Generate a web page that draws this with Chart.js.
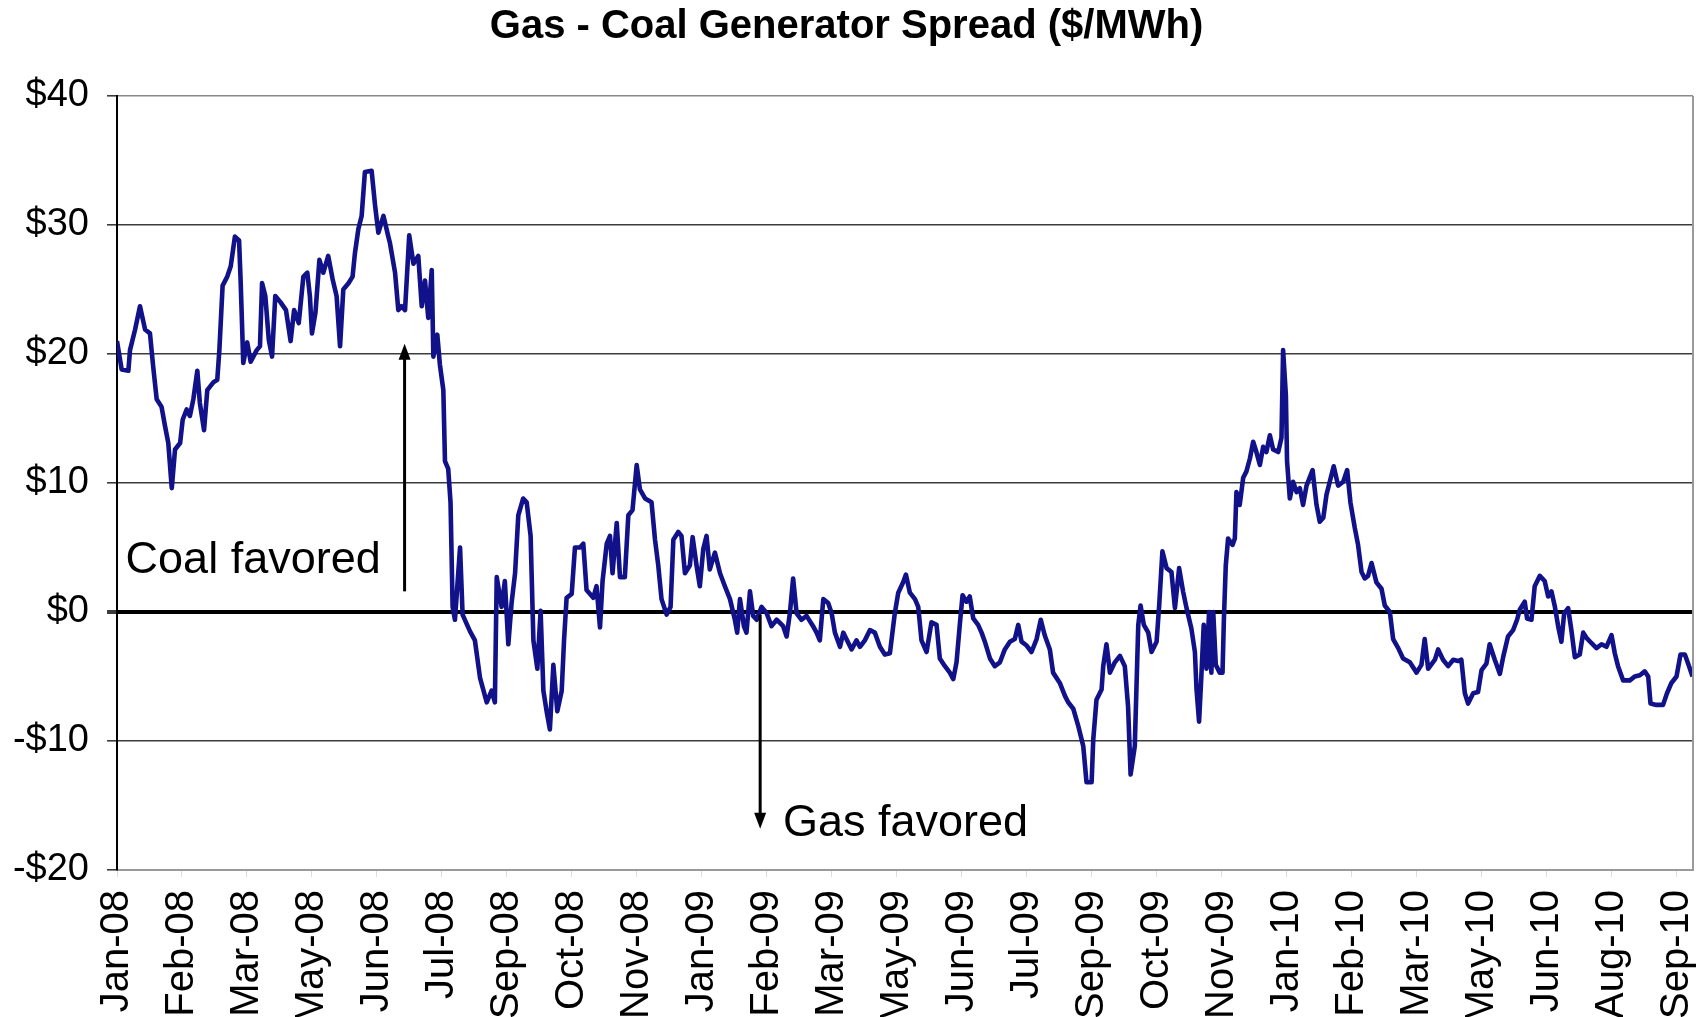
<!DOCTYPE html>
<html>
<head>
<meta charset="utf-8">
<title>Gas - Coal Generator Spread</title>
<script src="https://cdn.jsdelivr.net/npm/chart.js@4.4.1/dist/chart.umd.min.js"></script>
<style>
  html, body { margin: 0; padding: 0; background: #fff; }
  #wrap { width: 1696px; height: 1017px; position: relative; }
</style>
</head>
<body>
<div id="wrap"><canvas id="spread-chart"></canvas></div>
<script>
// x = trading day counted from the start of Jan-08, one axis label every 28 days
const xTickLabels = ["Jan-08", "Feb-08", "Mar-08", "May-08", "Jun-08", "Jul-08", "Sep-08", "Oct-08",
  "Nov-08", "Jan-09", "Feb-09", "Mar-09", "May-09", "Jun-09", "Jul-09", "Sep-09", "Oct-09",
  "Nov-09", "Jan-10", "Feb-10", "Mar-10", "May-10", "Jun-10", "Aug-10", "Sep-10"];
const daysPerLabel = 28;
const lastDay = 679;

const days = [
  0, 2.0, 4.9, 5.6, 7.8, 9.9, 12.1, 14.2, 15.6, 17.1, 19.2, 20.7, 22.1, 23.6, 25.0, 27.2, 28.3, 30.0, 31.4, 32.9,
  34.6, 35.7, 37.5, 38.9, 41.5, 43.2, 44.1, 45.5, 47.5, 49.0, 50.8, 52.6, 53.3, 54.4, 56.1, 57.6, 60.2, 61.6, 62.5,
  63.9, 65.4, 66.8, 68.2, 70.5, 72.8, 74.8, 76.3, 78.3, 80.3, 82.0, 83.1, 84.0, 85.5, 87.2, 88.9, 91.0, 92.9, 94.6,
  96.1, 97.5, 99.8, 101.5, 102.5, 104.0, 105.4, 106.8, 109.7, 111.2, 112.6, 114.8, 116.9,
  117.6, 119.8, 121.2, 122.6, 124.1, 125.9, 127.7, 129.8, 131.3, 132.7, 134.1, 135.6, 136.3, 138.0, 139.1, 140.6,
  141.3, 142.7, 143.7, 144.6, 145.6, 147.8, 148.9, 150.6, 152.1, 154.2, 156.4, 159.3, 161.4, 162.8, 163.6, 165.7,
  167.1, 168.6, 170.0, 171.5, 172.9, 175.0, 176.5, 178.2, 179.4, 181.1, 182.5, 183.7, 185.1, 186.5, 188.0, 189.7,
  191.6, 192.6, 193.7, 195.9, 197.3, 199.5, 200.9, 202.3, 205.2, 206.6, 208.1, 209.2, 211.0, 212.4, 213.5, 215.3,
  216.7, 218.8, 220.3, 222.1, 223.9, 225.3, 227.5, 230.3,
  231.8, 233.2, 234.6, 236.8, 238.5, 239.7, 241.8, 243.2, 244.7, 246.8, 248.0, 249.7, 251.1, 252.6, 254.0, 255.4,
  257.6, 259.8, 261.9, 264.1, 266.2, 267.2, 268.4, 270.1, 271.2, 272.7, 274.1, 275.6, 277.7, 279.9, 282.0, 284.2,
  287.0, 288.5, 289.9, 291.3, 292.8, 294.9, 297.1, 299.9, 301.4, 302.8, 304.3, 306.4, 307.9, 309.3, 311.5, 312.9,
  315.1, 316.5, 318.6, 320.1, 322.2, 324.4, 326.5, 328.7, 330.8, 333.0, 335.1, 336.6, 338.7, 339.9, 341.6, 343.8,
  345.2, 346.6,
  348.8, 350.9, 353.1, 354.5, 356.7, 358.8, 360.3, 361.7, 363.1, 364.3, 366.0, 367.4, 368.9, 371.0, 372.5, 373.9,
  376.1, 378.2, 380.4, 382.5, 384.7, 386.8, 388.3, 389.7, 391.9, 394.0, 396.2, 398.0, 399.7, 401.9, 403.3, 406.2,
  408.4, 409.8, 412.0, 414.1, 416.3, 417.7, 419.9, 420.6, 422.0, 424.2, 424.9, 426.3, 427.8, 429.9, 432.1, 434.2,
  435.6, 436.7, 438.5, 440.0, 441.0, 442.4, 444.3, 445.7, 447.9, 449.0, 450.4, 452.2, 454.3, 455.8, 457.6,
  459.3, 460.8, 462.9, 464.4, 465.1, 466.2, 467.2, 468.2, 469.4, 470.5, 471.5, 472.3, 473.4, 475.1, 476.3, 476.9,
  477.7, 478.7, 480.6, 481.6, 482.3, 483.7, 485.2, 486.6, 488.1, 489.5, 490.9, 492.4, 493.8, 495.2, 496.7, 498.1,
  500.3, 501.7, 502.4, 503.6, 504.1, 505.3, 506.7, 508.2, 509.6, 511.0, 512.5, 515.1, 516.8, 518.2, 519.7, 521.1,
  522.5, 524.2, 526.1, 528.3, 530.0, 531.4, 533.3, 534.7, 536.2, 537.6, 539.0, 540.5, 542.6, 544.8, 546.2, 548.4,
  549.8, 552.0, 554.1, 557.0, 559.9, 562.0, 563.4, 564.9,
  567.8, 569.2, 571.3, 573.5, 575.7, 577.8, 579.2, 580.7, 582.1, 584.3, 586.4, 587.9, 590.0, 591.4, 593.6, 595.8,
  597.2, 599.3, 601.5, 603.2, 604.4, 606.5, 607.5, 609.4, 610.8, 613.0, 615.1, 616.6, 618.0, 619.5, 620.9, 622.3,
  623.5, 625.2, 626.6, 628.1, 630.2, 631.7, 633.1, 635.2, 637.4, 639.6, 641.7, 643.9, 645.3, 646.7, 648.9, 651.8,
  653.9, 656.1, 658.2, 659.7, 660.7, 663.2, 666.1, 667.8, 669.7, 671.9, 673.6, 675.5, 677.3, 678.8
];

// $/MWh
const spread = [
  21.0, 18.8, 18.7, 20.3, 21.9, 23.7, 21.9, 21.6, 19.0, 16.5, 15.9, 14.4, 13.1, 9.6, 12.6, 13.1, 14.9, 15.7, 15.2, 16.5,
  18.7, 16.2, 14.1, 17.2, 17.8, 18.0, 20.3, 25.3, 26.0, 26.8, 29.1, 28.8, 25.5, 19.3, 20.9, 19.4, 20.3, 20.6, 25.5,
  24.5, 21.1, 19.8, 24.5, 24.0, 23.4, 21.0, 23.4, 22.4, 26.0, 26.3, 24.5, 21.6, 23.2, 27.3, 26.3, 27.6, 25.8, 24.5,
  20.6, 25.0, 25.5, 26.0, 27.8, 29.7, 30.7, 34.1, 34.2, 31.5, 29.4, 30.7, 29.1,
  28.6, 26.3, 23.4, 23.7, 23.4, 29.2, 27.0, 27.6, 23.7, 25.7, 22.8, 26.5, 19.8, 21.5, 19.2, 17.2,
  11.7, 11.1, 8.5, 0.4, -0.6, 5.0, -0.2, -0.9, -1.5, -2.2, -5.1, -7.0, -6.1, -7.0, 2.7, 0.4,
  2.4, -2.5, 0.7, 3.0, 7.5, 8.8, 8.5, 5.9, -2.2, -4.4, 0.1, -6.1, -7.7, -9.1, -4.1, -7.7,
  -6.1, -2.2, 1.1, 1.4, 5.0, 5.0, 5.3, 1.7, 1.1, 2.0, -1.2, 2.4, 5.3, 5.9, 3.0, 6.9,
  2.7, 2.7, 7.5, 7.9, 11.4, 9.5, 8.8, 8.5,
  5.6, 3.6, 1.0, -0.2, 0.4, 5.6, 6.2, 5.9, 3.0, 3.6, 5.8, 3.6, 2.0, 4.9, 5.9, 3.3,
  4.6, 3.0, 2.0, 1.0, -0.6, -1.6, 1.0, -1.1, -1.6, 1.6, -0.3, -0.6, 0.4, -0.1, -1.1, -0.6,
  -1.1, -1.9, -0.1, 2.6, -0.1, -0.6, -0.3, -1.1, -1.6, -2.2, 1.0, 0.7, -0.1, -1.6, -2.7, -1.6,
  -2.4, -2.9, -2.2, -2.7, -2.2, -1.4, -1.6, -2.7, -3.3, -3.2, -0.1, 1.5, 2.3, 2.9, 1.5, 1.0,
  0.4, -2.2,
  -3.1, -0.8, -1.0, -3.6, -4.2, -4.7, -5.2, -3.9, -1.0, 1.3, 0.8, 1.2, -0.5, -1.0, -1.6, -2.3,
  -3.6, -4.2, -3.9, -2.9, -2.3, -2.1, -1.0, -2.3, -2.6, -3.1, -2.1, -0.6, -1.8, -2.9, -4.7, -5.5,
  -6.5, -7.0, -7.5, -8.8, -10.4, -13.2, -13.2, -9.9, -6.8, -6.0, -4.2, -2.5, -4.7, -3.9, -3.4, -4.2,
  -7.3, -12.6, -10.4, -1.0, 0.5, -1.0, -1.6, -3.1, -2.3, 0.5, 4.7, 3.4, 3.1, 0.3, 3.4,
  1.6, 0.3, -1.3, -3.1, -6.0, -8.5, -4.9, -1.0, -4.4, 0, -4.7, 0, -4.1, -4.7, -4.7, -0.5,
  3.6, 5.7, 5.2, 5.7, 9.3, 8.3, 10.4, 10.9, 11.9, 13.2, 12.4, 11.4, 12.8, 12.4, 13.7, 12.6,
  12.4, 13.5, 20.3, 16.8, 11.7, 8.8, 10.1, 9.3, 9.6, 8.3, 9.8, 11.0, 8.3, 7.0, 7.3, 9.1,
  10.1, 11.3, 9.8, 10.1, 11.0, 8.5, 6.5, 5.2, 3.1, 2.6, 2.8, 3.8, 2.3, 1.8, 0.5, 0,
  -2.1, -2.8, -3.6, -3.9, -4.7, -4.1, -2.1, -4.4,
  -3.7, -2.9, -3.7, -4.2, -3.7, -3.8, -3.7, -6.3, -7.1, -6.3, -6.2, -4.5, -4.0, -2.5, -3.7, -4.8,
  -3.5, -1.9, -1.4, -0.6, 0.2, 0.8, -0.5, -0.6, 2.0, 2.8, 2.4, 1.2, 1.6, 0.4, -1.1, -2.3,
  -0.1, 0.3, -1.4, -3.5, -3.3, -1.6, -2.0, -2.4, -2.8, -2.5, -2.7, -1.8, -3.2, -4.2, -5.3, -5.3,
  -5.0, -4.9, -4.6, -5.0, -7.1, -7.2, -7.2, -6.3, -5.5, -5.0, -3.3, -3.3, -4.2, -5.0
];

const fontFamily = "'Liberation Sans', Arial, Helvetica, sans-serif";
Chart.defaults.font.family = fontFamily;
Chart.defaults.color = "#000";

function money(v) {
  return v < 0 ? "-$" + Math.abs(v) : "$" + v;
}

// the two "favored" notes with their arrows, placed in data units
const notes = {
  id: "notes",
  afterDatasetsDraw(chart) {
    const { ctx, scales: { x, y } } = chart;
    ctx.save();
    ctx.strokeStyle = "#000";
    ctx.fillStyle = "#000";
    ctx.lineWidth = 3;

    function arrow(day, from, to) {
      const px = x.getPixelForValue(day);
      const y0 = y.getPixelForValue(from);
      const y1 = y.getPixelForValue(to);
      const dir = y1 < y0 ? 1 : -1;
      ctx.beginPath();
      ctx.moveTo(px, y0);
      ctx.lineTo(px, y1 + dir * 12);
      ctx.stroke();
      ctx.beginPath();
      ctx.moveTo(px, y1);
      ctx.lineTo(px - 6, y1 + dir * 16);
      ctx.lineTo(px + 6, y1 + dir * 16);
      ctx.closePath();
      ctx.fill();
    }

    arrow(123.9, 1.6, 20.8);
    arrow(277.1, -0.2, -16.8);

    ctx.font = "45px " + fontFamily;
    ctx.textAlign = "left";
    ctx.textBaseline = "middle";
    ctx.fillText("Coal favored", x.getPixelForValue(3.7), y.getPixelForValue(4.0));
    ctx.fillText("Gas favored", x.getPixelForValue(286.9), y.getPixelForValue(-16.4));

    // plot frame on the right
    ctx.strokeStyle = "#9a9a9a";
    ctx.lineWidth = 2;
    ctx.beginPath();
    ctx.moveTo(chart.chartArea.right, chart.chartArea.top);
    ctx.lineTo(chart.chartArea.right, chart.chartArea.bottom);
    ctx.stroke();
    ctx.restore();
  }
};

new Chart(document.getElementById("spread-chart"), {
  type: "line",
  data: {
    datasets: [{
      label: "Gas - Coal spread",
      data: days.map((d, i) => ({ x: d, y: spread[i] })),
      borderColor: "#11118a",
      borderWidth: 4.6,
      borderJoinStyle: "round",
      pointRadius: 0,
      tension: 0,
      fill: false
    }]
  },
  plugins: [notes],
  options: {
    responsive: true,
    maintainAspectRatio: false,
    animation: false,
    layout: { padding: { top: 0, right: 3, bottom: 0, left: 0 } },
    plugins: {
      legend: { display: false },
      tooltip: { enabled: false },
      title: {
        display: true,
        text: "Gas - Coal Generator Spread ($/MWh)",
        color: "#000",
        font: { size: 40, weight: "bold", lineHeight: 1.2 },
        padding: { top: 3, bottom: 45 }
      }
    },
    scales: {
      x: {
        type: "linear",
        min: 0,
        max: lastDay,
        afterBuildTicks: (scale) => {
          scale.ticks = xTickLabels.map((_, i) => ({ value: i * daysPerLabel }));
        },
        afterFit: (scale) => {
          scale.height = 147;
          scale.paddingLeft = 0;
          scale.paddingRight = 0;
        },
        ticks: {
          autoSkip: false,
          minRotation: 90,
          maxRotation: 90,
          padding: 13,
          font: { size: 40 },
          callback: (value, index) => xTickLabels[index]
        },
        grid: {
          drawOnChartArea: false,
          tickLength: 7,
          color: "#dddddd"
        },
        border: { display: true, color: "#9a9a9a", width: 2 }
      },
      y: {
        min: -20,
        max: 40,
        afterFit: (scale) => {
          scale.width = 117;
          scale.paddingTop = 0;
          scale.paddingBottom = 0;
        },
        ticks: {
          stepSize: 10,
          padding: 18,
          font: { size: 38 },
          callback: (value) => money(value)
        },
        grid: {
          tickLength: 10,
          color: (c) => c.tick.value === 0 ? "#000" : (c.tick.value === 40 ? "#8a8a8a" : "#3c3c3c"),
          lineWidth: (c) => c.tick.value === 0 ? 4 : 1.6,
          tickColor: "#3c3c3c"
        },
        border: { display: true, color: "#000", width: 2 }
      }
    }
  }
});
</script>
</body>
</html>
